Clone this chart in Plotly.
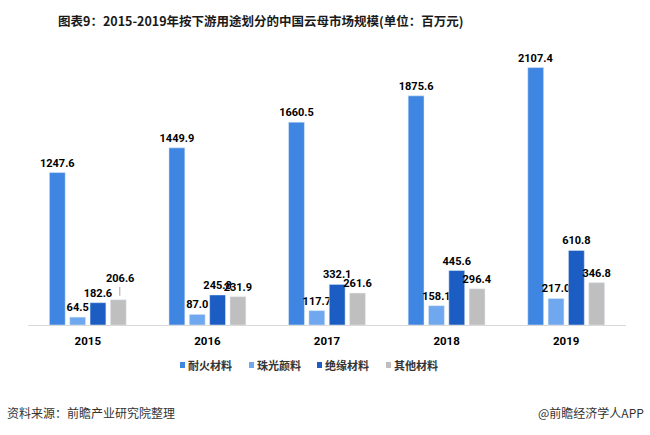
import plotly.graph_objects as go

years = ["2015", "2016", "2017", "2018", "2019"]
series_names = ["耐火材料", "珠光颜料", "绝缘材料", "其他材料"]
naihuo = [1247.6, 1449.9, 1660.5, 1875.6, 2107.4]
zhuguang = [64.5, 87.0, 117.7, 158.1, 217.0]
jueyuan = [182.6, 245.8, 332.1, 445.6, 610.8]
qita = [206.6, 231.9, 261.6, 296.4, 346.8]
colors = ["#3f86e2", "#6fa8ef", "#1b5dc2", "#bfbfbf"]

FONT = "Noto Sans CJK SC"
NUMFONT = "Liberation Sans Narrow, Roboto, Noto Sans CJK SC"
W, H = 650, 435
L, R, T, B = 28, 24, 44, 110
PW, PH = W - L - R, H - T - B


def px(x):
    return (x - L) / PW


def py(y):
    return (H - B - y) / PH


fig = go.Figure()
all_vals = [naihuo, zhuguang, jueyuan, qita]
for i, (name, vals) in enumerate(zip(series_names, all_vals)):
    texts = [f"<b>{v:.1f}</b>" for v in vals]
    if i == 3:
        texts[0] = " "  # drawn with a leader line below
    fig.add_trace(go.Bar(
        x=years, y=vals, name=name, marker_color=colors[i],
        text=texts, textposition="outside", cliponaxis=False,
        constraintext="none", showlegend=False, hoverinfo="skip",
        textfont=dict(family=NUMFONT, size=11, color="#000000"),
    ))

# leader-line label for 2015 其他材料
fig.add_annotation(x=0, y=qita[0], xref="x", yref="y", xshift=32,
                   text=f"<b>{qita[0]:.1f}</b>", showarrow=True, arrowhead=0,
                   arrowwidth=1, arrowcolor="#a6a6a6", ax=0, ay=-21, standoff=4,
                   font=dict(family=NUMFONT, size=11, color="#000000"))

# custom legend (square + name), spaced like the reference
leg_x = [180, 249, 317, 386]
leg_y = 365
for i, name in enumerate(series_names):
    x0 = leg_x[i]
    fig.add_shape(type="rect", xref="paper", yref="paper",
                  x0=px(x0), x1=px(x0 + 5), y0=py(leg_y + 3), y1=py(leg_y - 3),
                  fillcolor=colors[i], line=dict(width=0))
    fig.add_annotation(x=px(x0 + 6), y=py(leg_y), xref="paper", yref="paper",
                       text=f"<b>{name}</b>", showarrow=False, xanchor="left", yanchor="middle",
                       font=dict(family=FONT, size=11, color="#333333"))

fig.add_annotation(x=px(260), y=py(20), xref="paper", yref="paper",
                   text="<b>图表9：2015-2019年按下游用途划分的中国云母市场规模(单位：百万元)</b>",
                   showarrow=False, font=dict(family=FONT, size=12.5, color="#1a1a1a"),
                   xanchor="center", yanchor="middle")
fig.add_annotation(x=px(5), y=py(412), xref="paper", yref="paper",
                   text="资料来源：前瞻产业研究院整理", showarrow=False,
                   font=dict(family=FONT, size=12, color="#333333"),
                   xanchor="left", yanchor="middle")
fig.add_annotation(x=px(646), y=py(412), xref="paper", yref="paper",
                   text="@前瞻经济学人APP", showarrow=False,
                   font=dict(family=FONT, size=12, color="#333333"),
                   xanchor="right", yanchor="middle")

fig.update_layout(
    width=W, height=H,
    margin=dict(l=L, r=R, t=T, b=B),
    paper_bgcolor="white", plot_bgcolor="white",
    barmode="group", bargap=0.32, bargroupgap=0.22,
    showlegend=False,
    xaxis=dict(type="category", showline=True, linecolor="#d9d9d9", linewidth=1, ticks="",
               tickfont=dict(family=NUMFONT, size=11.5, color="#000000"),
               tickprefix="<b>", ticksuffix="</b>", ticklabelstandoff=5,
               showgrid=False),
    yaxis=dict(range=[0, 2300], visible=False, showgrid=False),
)
fig.write_html("out.html", config={"displayModeBar": False},
               post_script="document.body.style.margin='0';")
